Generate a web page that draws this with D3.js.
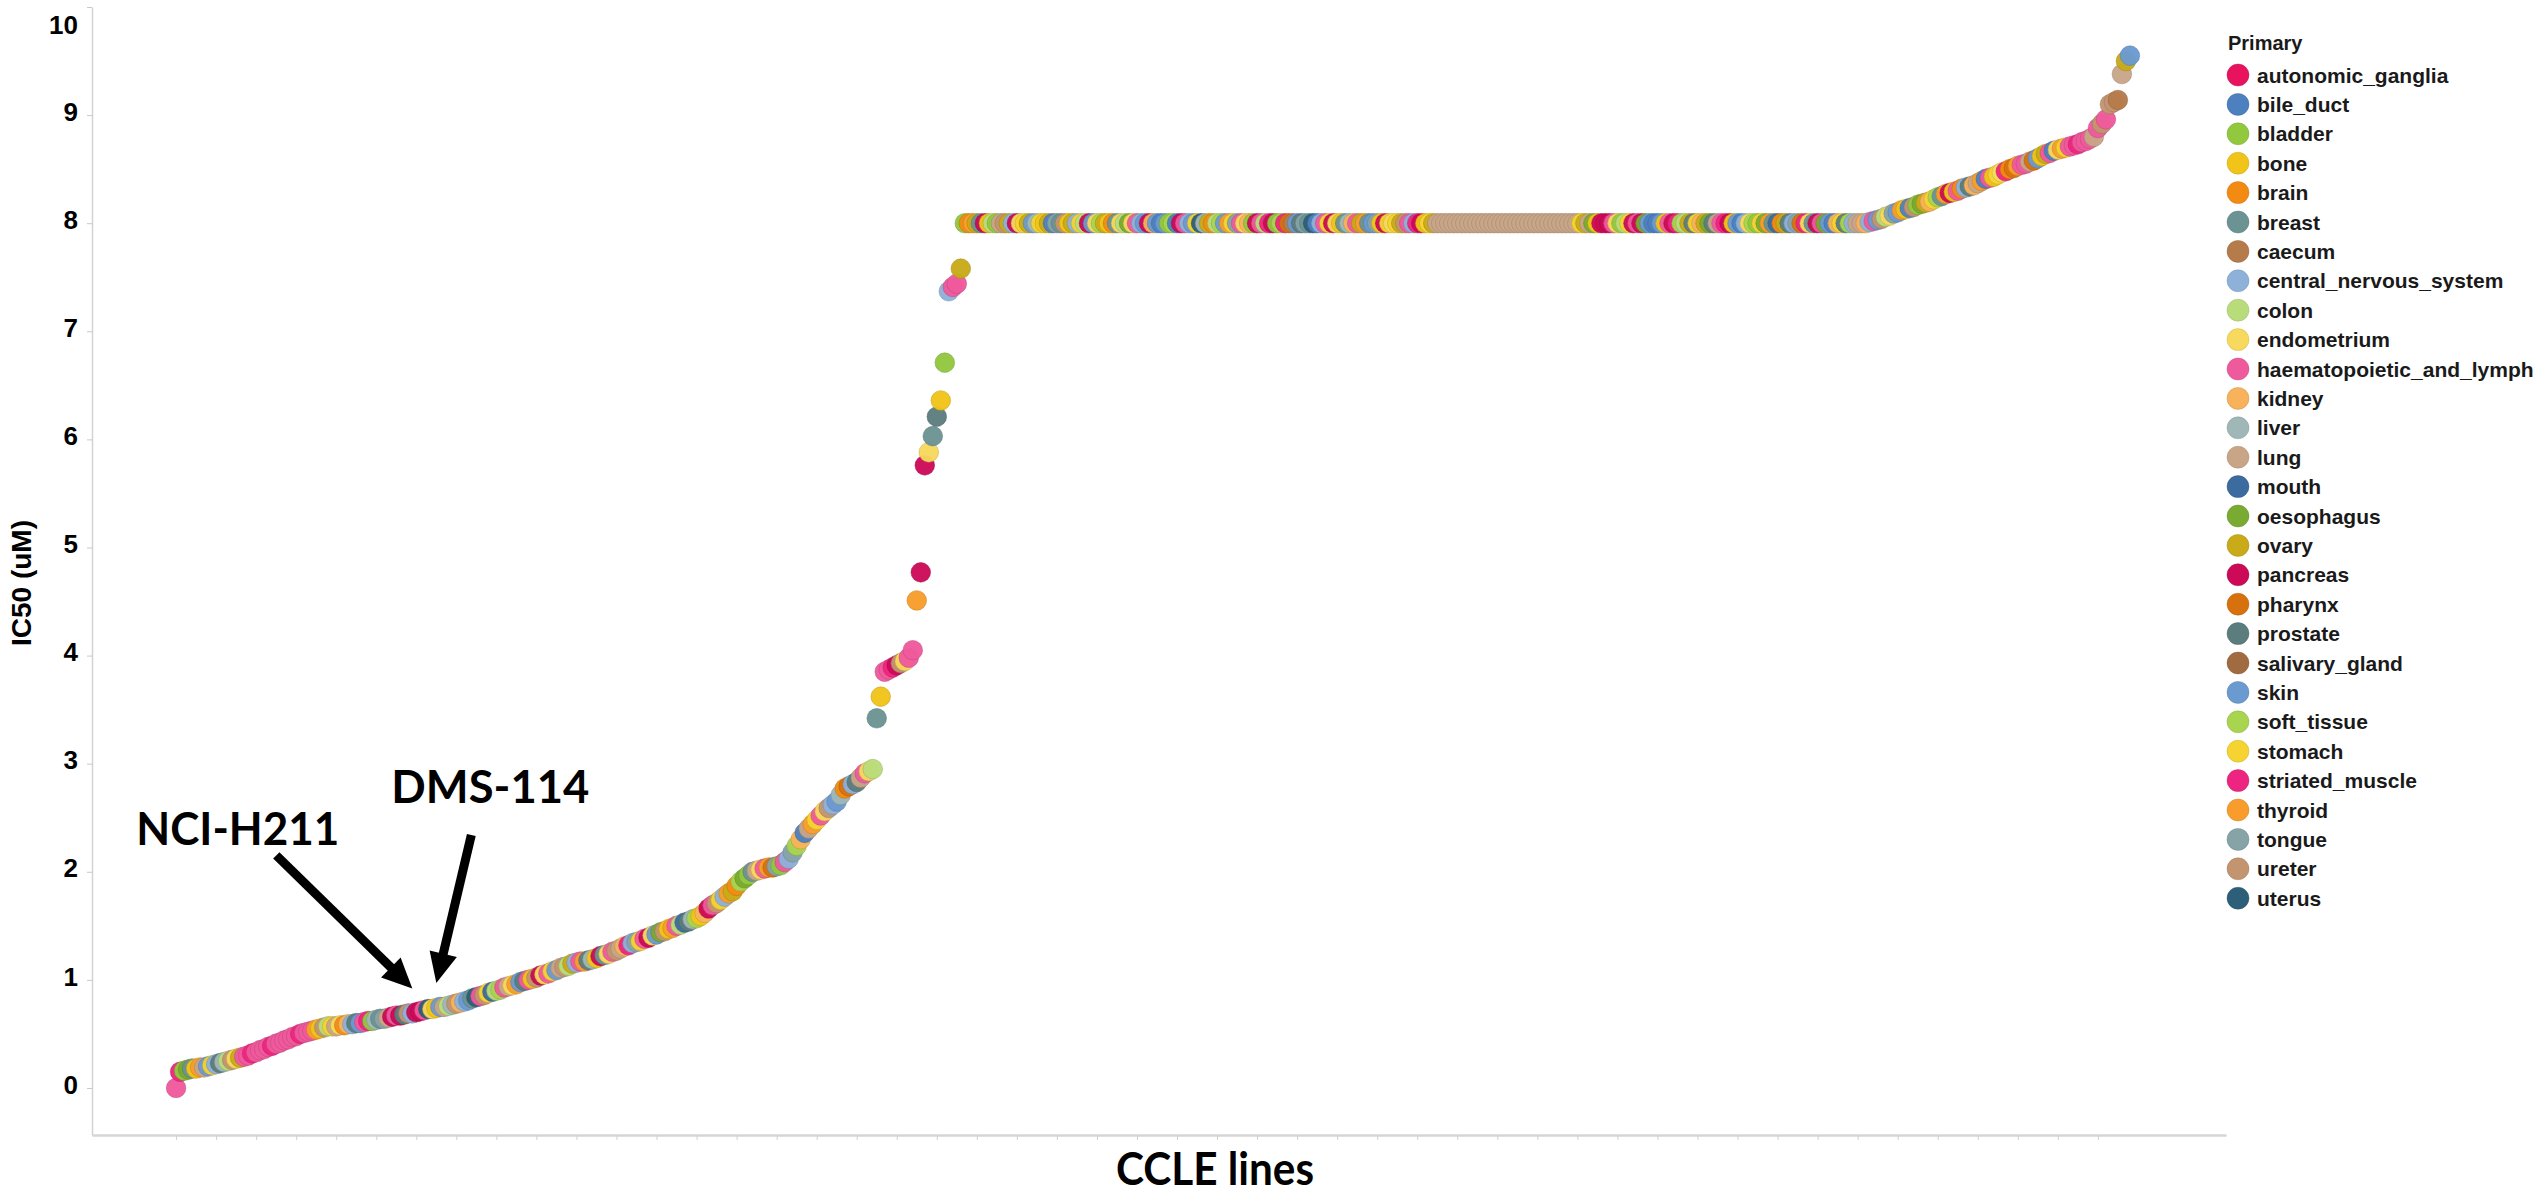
<!DOCTYPE html>
<html>
<head>
<meta charset="utf-8">
<script src="https://cdn.jsdelivr.net/npm/d3@7"></script>
<style>
  html, body { margin: 0; padding: 0; background: #ffffff; }
  svg { display: block; }
</style>
</head>
<body>
<svg id="chart" width="2544" height="1198"></svg>
<script>
// ---------------- DATA ----------------
const categories = [
  "autonomic_ganglia","bile_duct","bladder","bone","brain","breast","caecum",
  "central_nervous_system","colon","endometrium","haematopoietic_and_lymph","kidney",
  "liver","lung","mouth","oesophagus","ovary","pancreas","pharynx","prostate",
  "salivary_gland","skin","soft_tissue","stomach","striated_muscle","thyroid",
  "tongue","ureter","uterus"
];
const categoryColors = [
  "#e8125f","#4c80bf","#92c83e","#f0c419","#f38b12","#6b9393","#b57b4b",
  "#8eb1d9","#b9dc7b","#f7d95d","#ef5a9c","#f7b25b",
  "#9fb7b7","#c8a587","#3b6b9f","#79aa31","#c9aa18","#cc0a57","#d7710e","#5c7d7e",
  "#a06b40","#6b9ad0","#a8d44f","#f5d331","#ee2580","#f89d2b",
  "#86a3a8","#c39470","#2e5f78"
];
// one letter per category, same order as `categories`
const categoryCodes = "abcdefghijklmnopqrstuvwxyzABC";

// IC50 (uM) of the cell lines, sorted ascending
const lowValues = [
  0.00,0.15,0.16,0.17,0.18,0.18,0.19,0.19,0.20,0.21,0.22,0.23,0.24,0.25,0.26,0.27,0.28,0.29,0.30,0.32,
  0.33,0.35,0.36,0.38,0.39,0.41,0.42,0.44,0.45,0.47,0.48,0.50,0.51,0.52,0.53,0.54,0.55,0.56,0.57,0.57,
  0.57,0.58,0.58,0.59,0.59,0.60,0.60,0.61,0.62,0.62,0.63,0.64,0.64,0.65,0.66,0.67,0.67,0.68,0.69,0.69,
  0.70,0.71,0.72,0.73,0.73,0.74,0.75,0.75,0.76,0.77,0.78,0.79,0.80,0.81,0.83,0.84,0.85,0.86,0.88,0.89,
  0.90,0.91,0.93,0.94,0.95,0.96,0.98,0.99,1.00,1.01,1.02,1.04,1.05,1.06,1.08,1.09,1.11,1.12,1.13,1.15,
  1.16,1.17,1.17,1.18,1.19,1.20,1.22,1.23,1.24,1.26,1.27,1.29,1.31,1.32,1.34,1.35,1.36,1.38,1.39,1.41,
  1.42,1.44,1.45,1.47,1.48,1.50,1.51,1.53,1.54,1.56,1.57,1.59,1.62,1.66,1.69,1.71,1.74,1.77,1.80,1.82,
  1.87,1.91,1.94,1.97,2.00,2.01,2.02,2.03,2.04,2.04,2.05,2.06,2.09,2.12,2.18,2.24,2.30,2.36,2.40,2.44,
  2.48,2.52,2.56,2.59,2.62,2.65,2.71,2.77,2.79,2.81,2.83,2.87,2.91,2.93,2.95
];
const steepValues = [
  3.42,3.62,3.85,3.87,3.89,3.91,3.93,3.95,3.98,4.05,4.51,4.77,5.76,5.88,6.03,6.21,6.36,6.71,7.37,7.41,7.44,7.58
];
// lines capped at 8 uM
const plateauValues = [
  8,8,8,8,8, 8,8,8,8,8, 8,8,8,8,8, 8,8,8,8,8,
  8,8,8,8,8, 8,8,8,8,8, 8,8,8,8,8, 8,8,8,8,8,
  8,8,8,8,8, 8,8,8,8,8, 8,8,8,8,8, 8,8,8,8,8,
  8,8,8,8,8, 8,8,8,8,8, 8,8,8,8,8, 8,8,8,8,8,
  8,8,8,8,8, 8,8,8,8,8, 8,8,8,8,8, 8,8,8,8,8,
  8,8,8,8,8, 8,8,8,8,8, 8,8,8,8,8, 8,8,8,8,8,
  8,8,8,8,8, 8,8,8,8,8, 8,8,8,8,8, 8,8,8,8,8,
  8,8,8,8,8, 8,8,8,8,8, 8,8,8,8,8, 8,8,8,8,8,
  8,8,8,8,8, 8,8,8,8,8, 8,8,8,8,8, 8,8,8,8,8,
  8,8,8,8,8, 8,8,8,8,8, 8,8,8,8,8, 8,8,8,8,8,
  8,8,8,8,8, 8,8,8,8,8, 8,8,8,8,8, 8,8,8,8,8,
  8,8,8,8,8, 8
];
const tailValues = [
  8.01,8.02,8.03,8.04,8.06,8.07,8.09,8.10,8.12,8.13,
  8.14,8.15,8.17,8.18,8.19,8.20,8.22,8.24,8.25,8.27,
  8.28,8.29,8.30,8.32,8.33,8.34,8.35,8.37,8.39,8.41,
  8.42,8.43,8.45,8.47,8.48,8.50,8.51,8.53,8.54,8.55,
  8.57,8.58,8.60,8.62,8.64,8.65,8.67,8.68,8.69,8.70,
  8.71,8.72,8.73,8.75,8.76,8.78,8.80,8.88,8.92,8.96,
  9.10,9.12,9.14,9.38,9.50,9.55
];

// primary site of each line, one code letter per point (same order as the values)
const lowCodes =
  "k" + "ycpfdznvxhtmiBjq" + "kkykkkkykkkkkkykkk" + "zdBixnjelhtvkycm" +
  "fAnrkrtBhrrkCjdvnimB" + "lhvfCkBxoiwknjzvtkdB" + "rjkxvnBiqhkztmdrfjkB" +
  "nlyhAxkrjvpBdzkiotmw" + "dlrkBxhzqewpcfnjkzsA" + "ckhAwlbnzxkjBhvmeshtnkji";
const steepCodes = "fdkkyrBjkkzrrjftdchkkq";
const plateauCodes =
  "cezqfrdicnBqhrjxqvmx" + "dqbAfBdqhxirvjwqdefj" + "ipjkhvrlvbvcwbrkhvxC" +
  "mqeiwvzxAkjlcrkiyrcw" + "ysgvtAfCbhkxrjdfmlkq" + "zfvAdrxjxqBkhyrdxq" +
  "nnnnnnnnnnnn" + "nnnnnnnnnnnn" + "nnnnnnnnnnnn" +
  "xqnpdrrrkjcixrkrpvbb" + "vdkrywiqtxlqptnkyrdv" + "bhjwcxpzfoeqthAsyjfr" + "kpvblxtwhnnl";
const tailCodes =
  "hkvBijAvzdbBcpqlxwfz" + "rdkehtlnzbkdxjyeszkk" + "nsvdqkbjzxkkykkknkBk" + "BBgnqv";

const yTickValues = [0,1,2,3,4,5,6,7,8,9,10];
const yTickLabels = ["0","1","2","3","4","5","6","7","8","9","10"];

const annotationLabels = ["NCI-H211","DMS-114"];
const annotationIndex  = [59, 65];

// ---------------- LAYOUT / STYLE ----------------
const layout = {
  axisX: 92, axisBottom: 1135, axisTop: 7, plotRight: 2226,
  pointR: 9.8,
  legendX: 2228, legendTitleY: 50, legendFirstY: 75, legendStep: 29.4,
  legendR: 11,
  arrowTipLift: 25,
  annot: [
    { labelDx: -276, labelDy: -143, tailDx: -136, tailDy: -133, textLen: 203 },
    { labelDx: -45,  labelDy: -180, tailDx: 35,   tailDy: -148, textLen: 198 }
  ]
};
const sansBold = "'Liberation Sans', Arial, Helvetica, sans-serif";
const titleFont = "Lato, 'Open Sans', sans-serif";

// ---------------- BUILD ----------------
const values = lowValues.concat(steepValues, plateauValues, tailValues);
const codes = lowCodes + steepCodes + plateauCodes + tailCodes;
if (values.length !== codes.length) {
  console.error("length mismatch", values.length, codes.length);
}
const N = Math.min(values.length, codes.length);
const points = d3.range(N).map(i => ({
  i, v: values[i], cat: categories[categoryCodes.indexOf(codes[i])] || categories[0]
}));

const color = d3.scaleOrdinal().domain(categories).range(categoryColors);

const svg = d3.select("#chart");

const x = d3.scaleLinear().domain([-21, 512]).range([layout.axisX, layout.plotRight]);
const y = d3.scaleLinear().domain([-0.435, 10]).range([layout.axisBottom, layout.axisTop]);

// x axis (no labels)
const xTickIdx = d3.range(0, N, 10);
const gx = svg.append("g")
  .attr("transform", `translate(0,${layout.axisBottom})`)
  .call(d3.axisBottom(x).tickValues(xTickIdx).tickSize(5).tickSizeOuter(0).tickFormat(""));
gx.select(".domain").attr("stroke", "#d6d6d6").attr("stroke-width", 2.5);
gx.selectAll(".tick line").attr("stroke", "#d0d0d0");

// y axis
const gy = svg.append("g")
  .attr("transform", `translate(${layout.axisX},0)`)
  .call(d3.axisLeft(y).tickValues(yTickValues).tickSize(5).tickSizeOuter(0).tickPadding(9)
        .tickFormat((d, i) => yTickLabels[i]));
gy.select(".domain").attr("stroke", "#d2d2d2").attr("stroke-width", 1.5);
gy.selectAll(".tick line").attr("stroke", "#c8c8c8");
gy.selectAll(".tick text")
  .attr("font-family", sansBold).attr("font-weight", "bold")
  .attr("font-size", 26).attr("fill", "#000").attr("dy", "0.2em");
gy.selectAll(".tick text").filter(d => d === 10).attr("dy", "1.0em");

// y title
svg.append("text")
  .attr("transform", `translate(31,583) rotate(-90)`)
  .attr("text-anchor", "middle")
  .attr("font-family", sansBold).attr("font-weight", "bold")
  .attr("font-size", 28).attr("fill", "#000")
  .text("IC50 (uM)");

// x title
svg.append("text")
  .attr("x", 1215).attr("y", 1185)
  .attr("text-anchor", "middle")
  .attr("font-family", titleFont).attr("font-weight", "bold")
  .attr("font-size", 45).attr("fill", "#000")
  .attr("textLength", 198).attr("lengthAdjust", "spacingAndGlyphs")
  .text("CCLE lines");

// points
svg.append("g").selectAll("circle")
  .data(points)
  .join("circle")
  .attr("cx", d => x(d.i))
  .attr("cy", d => y(d.v))
  .attr("r", layout.pointR)
  .attr("fill", d => color(d.cat))
  .attr("fill-opacity", 0.96)
  .attr("stroke", d => d3.color(color(d.cat)).darker(0.7))
  .attr("stroke-opacity", 0.6)
  .attr("stroke-width", 0.8);

// annotations with arrows
const ga = svg.append("g");
annotationLabels.forEach((label, k) => {
  const idx = annotationIndex[k];
  const conf = layout.annot[k];
  const tx = x(idx), ty = y(values[idx]) - layout.arrowTipLift;
  const sx = tx + conf.tailDx, sy = ty + conf.tailDy;
  const len = Math.hypot(tx - sx, ty - sy);
  const ux = (tx - sx) / len, uy = (ty - sy) / len;
  const nx = -uy, ny = ux;
  const headL = 30, headW = 14;
  const bx = tx - ux * headL, by = ty - uy * headL;
  ga.append("line")
    .attr("x1", sx).attr("y1", sy)
    .attr("x2", bx + ux * 2).attr("y2", by + uy * 2)
    .attr("stroke", "#000").attr("stroke-width", 9);
  ga.append("polygon")
    .attr("points", [[tx, ty], [bx + nx * headW, by + ny * headW], [bx - nx * headW, by - ny * headW]]
      .map(p => p.join(",")).join(" "))
    .attr("fill", "#000");
  ga.append("text")
    .attr("x", tx + conf.labelDx).attr("y", ty + conf.labelDy)
    .attr("font-family", titleFont).attr("font-weight", "bold")
    .attr("font-size", 46).attr("fill", "#000")
    .attr("textLength", conf.textLen).attr("lengthAdjust", "spacingAndGlyphs")
    .text(label);
});

// legend
const gl = svg.append("g");
gl.append("text")
  .attr("x", layout.legendX).attr("y", layout.legendTitleY)
  .attr("font-family", sansBold).attr("font-weight", "bold")
  .attr("font-size", 20).attr("fill", "#1a1a1a")
  .text("Primary");
const items = gl.selectAll("g.item")
  .data(categories)
  .join("g")
  .attr("class", "item")
  .attr("transform", (d, i) => `translate(${layout.legendX + 10},${layout.legendFirstY + i * layout.legendStep})`);
items.append("circle")
  .attr("r", layout.legendR)
  .attr("fill", d => color(d))
  .attr("stroke", d => d3.color(color(d)).darker(0.7))
  .attr("stroke-opacity", 0.5)
  .attr("stroke-width", 0.8);
items.append("text")
  .attr("x", 19)
  .attr("dy", "0.36em")
  .attr("font-family", sansBold).attr("font-weight", "bold")
  .attr("font-size", 21).attr("fill", "#1a1a1a")
  .text(d => d);
</script>
</body>
</html>
